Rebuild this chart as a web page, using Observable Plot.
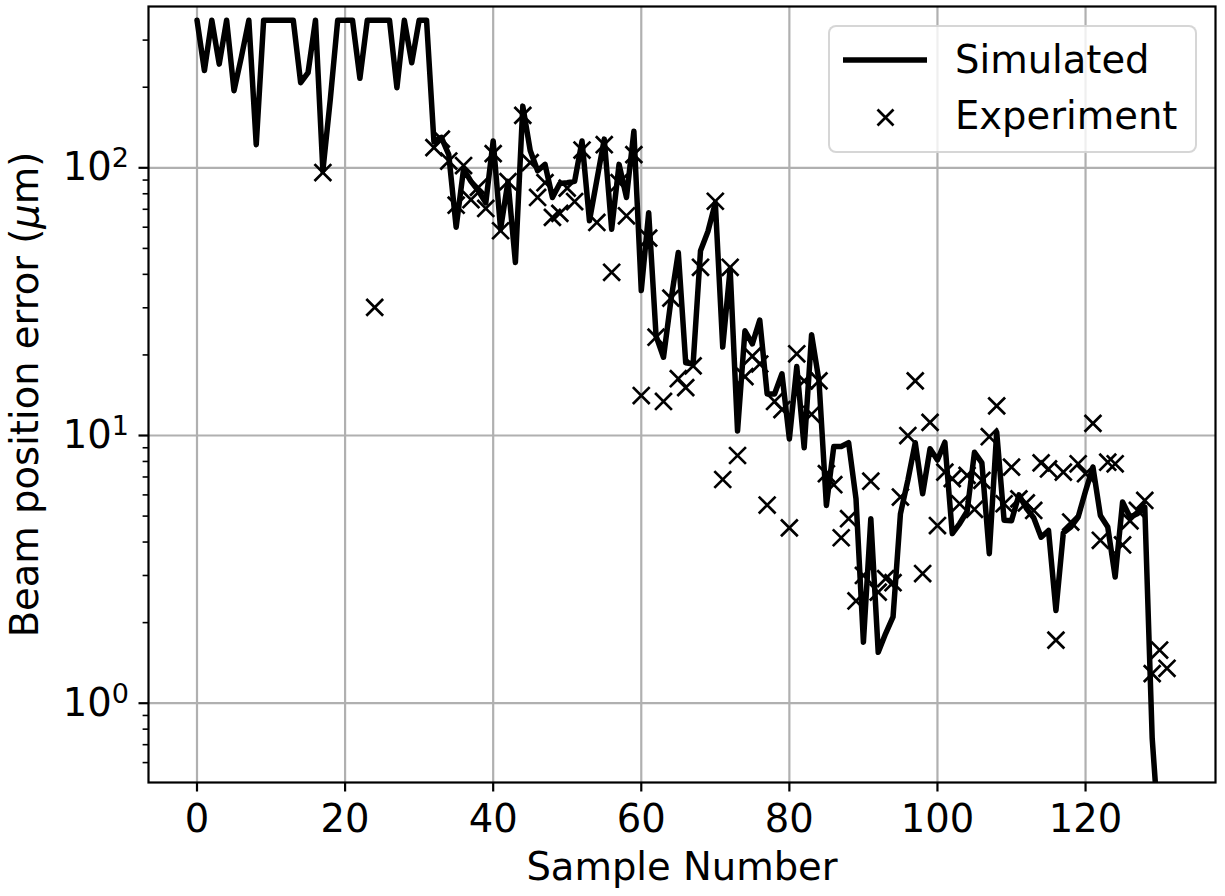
<!DOCTYPE html>
<html><head><meta charset="utf-8">
<script src="https://cdn.jsdelivr.net/npm/d3@7"></script>
<script src="https://cdn.jsdelivr.net/npm/@observablehq/plot@0.6"></script>
<style>
body{margin:0;background:#fff;}
#wrap{position:relative;width:1225px;height:896px;font-family:"DejaVu Sans",sans-serif;}
#legend{position:absolute;left:828px;top:25px;width:369px;height:128px;box-sizing:border-box;border:2.2px solid rgba(204,204,204,0.8);border-radius:8px;background:rgba(255,255,255,0.8);font-size:38.5px;color:#000;}
#legend .lab{position:absolute;left:125px;line-height:1;white-space:nowrap;}
#legend svg{position:absolute;left:0;top:0;}
</style></head>
<body><div id="wrap"></div>
<script>
const simSample = [0,1,2,3,4,5,6,7,8,9,10,11,12,13,14,15,16,17,18,19,20,21,22,23,24,25,26,27,28,29,30,31,32,33,34,35,36,37,38,39,40,41,42,43,44,45,46,47,48,49,50,51,52,53,54,55,56,57,58,59,60,61,62,63,64,65,66,67,68,69,70,71,72,73,74,75,76,77,78,79,80,81,82,83,84,85,86,87,88,89,90,91,92,93,94,95,96,97,98,99,100,101,102,103,104,105,106,107,108,109,110,111,112,113,114,115,116,117,118,119,120,121,122,123,124,125,126,127,128,129,130];
const simError = [356,231,356,244,356,194,260,356,122,356,356,356,356,356,208,227,356,97.5,180,356,356,356,216,356,356,356,356,199,356,247,356,356,125,130,112,60,99,89,82,74,126,59,89,44.3,170,116,97.5,103,77.5,87.4,88,89,126,63.4,90,128,59,103,77.5,137,34.8,68,23.5,19.6,31.9,48.3,18.7,18.5,49,57.8,74,21.4,42,10.4,24.6,22,27,14.3,14.3,17,9.7,18.1,9,23.8,16,5.48,9.1,9.1,9.4,5.8,1.69,4.89,1.55,1.82,2.1,5.1,6.8,9.4,6.06,8.92,8.1,9.44,4.3,4.69,5.2,8.66,7.9,3.62,10.3,4.82,4.8,6.0,5.35,4.93,4.17,4.42,2.22,4.33,4.55,4.96,6.2,7.62,5.03,4.55,2.96,5.64,4.96,5.1,5.4,0.74,0.3];
const expSample = [17,24,32,33,34,35,36,37,38,39,40,41,42,44,45,46,47,48,49,50,51,52,54,55,56,57,58,59,60,61,62,63,64,65,66,67,68,70,71,72,73,74,75,76,77,78,79,80,81,82,83,84,85,86,87,88,89,90,91,92,93,94,95,96,97,98,99,100,101,102,103,104,105,106,107,108,109,110,111,112,113,114,115,116,117,118,119,120,121,122,123,124,125,126,127,128,129,130,131];
const expError = [96,30.1,119,128,106,72.5,102,76,84.5,70.5,113,58.2,88.8,157,104.6,77.5,88,65.3,67.6,84,74.8,116.5,62.5,122,40.7,88,66.2,112,14.1,54.6,23.3,13.4,32.6,16.3,15.1,18.2,42.5,75,6.85,42.5,8.42,16.6,19.8,18.5,5.5,13.4,12.5,4.52,20.2,16,12,16,7.2,6.55,4.15,4.89,2.41,3.0,6.75,2.6,2.92,2.82,5.89,10,16,3.05,11.2,4.61,7.3,6.9,5.56,7.1,5.3,6.8,9.9,12.9,5.56,7.62,5.8,5.6,5.25,7.9,7.5,1.72,7.3,4.75,7.84,7.2,11.1,4.06,7.95,7.84,3.9,4.8,5.25,5.72,1.29,1.58,1.35];
const xTicks = [0,20,40,60,80,100,120];
const yTicks = [1,10,100];
const yTickExponents = ["0","1","2"];
const yMinorTicks = [0.6,0.7,0.8,0.9,2,3,4,5,6,7,8,9,20,30,40,50,60,70,80,90,200,300];
const seriesNames = ["Simulated","Experiment"];
const xLabel = "Sample Number";
const yLabel = "Beam position error (\u03bcm)";

const sim = simSample.map((s,i)=>({sample:s, error:simError[i]}));
const exp = expSample.map((s,i)=>({sample:s, error:expError[i]}));
const tickKey = d => "10^" + yTickExponents[yTicks.indexOf(d)];

const chart = Plot.plot({
  width: 1225, height: 896,
  marginLeft: 148, marginRight: 10, marginTop: 6, marginBottom: 114,
  style: {fontFamily: "DejaVu Sans", fontSize: "38.5px", color: "black", background: "white", overflow: "visible"},
  x: {domain: [-6.55, 137.55]},
  y: {type: "log", domain: [0.5056, 400.5]},
  marks: [
    Plot.gridX(xTicks, {stroke: "#b0b0b0", strokeOpacity: 1, strokeWidth: 2.2}),
    Plot.gridY(yTicks, {stroke: "#b0b0b0", strokeOpacity: 1, strokeWidth: 2.2}),
    Plot.line(sim, {x: "sample", y: "error", stroke: "black", strokeWidth: 5.5, strokeLinejoin: "round", clip: true}),
    Plot.dot(exp, {x: "sample", y: "error", symbol: "times", r: 7.7, stroke: "black", strokeWidth: 2.7}),
    Plot.frame({stroke: "black", strokeWidth: 2.2}),
    Plot.axisX(xTicks, {tickSize: 9.5, tickPadding: 13, strokeWidth: 2.2, label: xLabel, labelAnchor: "center", labelArrow: "none", labelOffset: 97}),
    Plot.axisY(yTicks, {tickSize: 9.5, tickPadding: 10, strokeWidth: 2.2, tickFormat: tickKey, label: yLabel, labelAnchor: "center", labelArrow: "none", labelOffset: 138}),
    Plot.axisY(yMinorTicks, {tickSize: 5.4, strokeWidth: 1.6, tickFormat: () => "", label: null})
  ]
});
const wrap = document.getElementById("wrap");
wrap.appendChild(chart);

const SVGNS = "http://www.w3.org/2000/svg";
chart.querySelectorAll("text").forEach(t => {
  const s = t.textContent;
  // italic mu in y label
  if (s === yLabel) {
    t.textContent = "";
    const parts = [["Beam position error (", null], ["\u03bc", "italic"], ["m)", null]];
    for (const [p, st] of parts) {
      const ts = document.createElementNS(SVGNS, "tspan");
      ts.textContent = p;
      if (st) ts.setAttribute("font-style", st);
      t.appendChild(ts);
    }
  } else if (/^10\^\d$/.test(s)) {
    // mathtext-like superscript for log tick labels
    t.textContent = "";
    const base = document.createElementNS(SVGNS, "tspan");
    base.textContent = "10";
    const sup = document.createElementNS(SVGNS, "tspan");
    sup.textContent = s.slice(3);
    sup.setAttribute("font-size", "27px");
    sup.setAttribute("dy", "-13");
    t.appendChild(base);
    t.appendChild(sup);
  }
});

// legend
const lg = document.createElement("div");
lg.id = "legend";
lg.innerHTML = `<svg width="369" height="128">
  <line x1="13" x2="97" y1="33" y2="33" stroke="black" stroke-width="5.5"/>
  <path d="M47.5,82.5L63.5,98.5M47.5,98.5L63.5,82.5" stroke="black" stroke-width="2.7" fill="none"/>
</svg>
<div class="lab" style="top:14px">${seriesNames[0]}</div>
<div class="lab" style="top:70px">${seriesNames[1]}</div>`;
wrap.appendChild(lg);
</script>
</body></html>
